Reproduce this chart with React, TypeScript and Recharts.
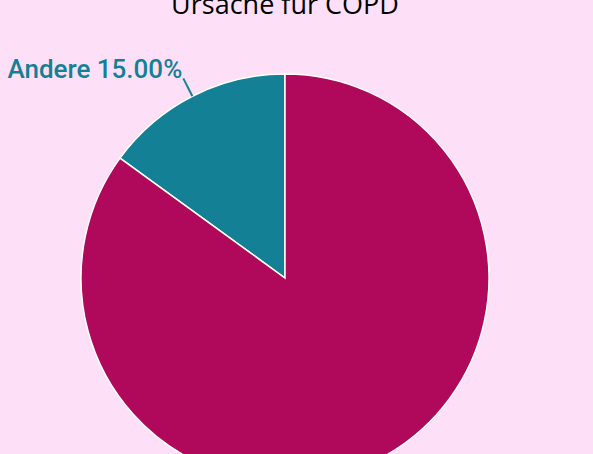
import { PieChart, Pie, Cell } from "recharts";

const categories = ["Andere", "Rauchen"];
const shares = [15, 85];
const colors = ["#138096", "#B0095B"];

const data = categories.map((name, i) => ({ name, value: shares[i] }));

const RADIAN = Math.PI / 180;
const BG = "#FDE0F8";

function SliceLabel(props: any) {
  const { cx, cy, midAngle, outerRadius, percent, name, index } = props;
  const r = outerRadius + 20;
  const x = cx + r * Math.cos(-midAngle * RADIAN);
  const y = cy + r * Math.sin(-midAngle * RADIAN);
  const left = x < cx;
  return (
    <text
      x={left ? x - 1 : x + 1}
      y={y}
      fill={colors[index]}
      textAnchor={left ? "end" : "start"}
      fontFamily="Roboto"
      fontWeight={500}
      fontSize={26}
    >
      {`${name} ${(percent * 100).toFixed(2)}%`}
    </text>
  );
}

export default function App() {
  return (
    <div
      style={{
        position: "absolute",
        left: 0,
        top: 0,
        width: 593,
        height: 454,
        background: BG,
        overflow: "hidden",
      }}
    >
      <div
        style={{
          position: "absolute",
          left: 0,
          width: 570,
          top: -18,
          textAlign: "center",
          fontFamily: "'Open Sans'",
          fontSize: 27,
          lineHeight: "44px",
          color: "#000",
        }}
      >
        Ursache für COPD
      </div>
      <PieChart width={593} height={454} style={{ position: "absolute", left: 0, top: 0 }}>
        <Pie
          data={data}
          dataKey="value"
          nameKey="name"
          cx={280}
          cy={273}
          outerRadius={204}
          startAngle={90}
          endAngle={450}
          stroke="#ffffff"
          strokeWidth={1.5}
          label={SliceLabel}
          labelLine={{ strokeWidth: 2 }}
          isAnimationActive={false}
        >
          {data.map((d, i) => (
            <Cell key={d.name} fill={colors[i]} />
          ))}
        </Pie>
      </PieChart>
    </div>
  );
}
